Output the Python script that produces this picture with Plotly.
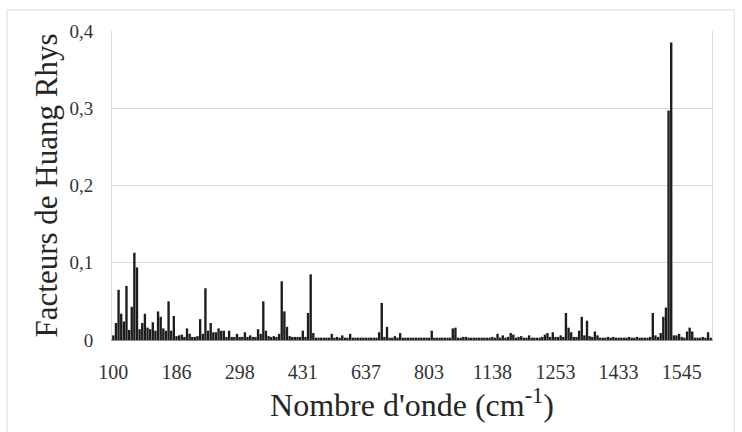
import plotly.graph_objects as go

# Tick labels shown on the category axis (every 24th mode)
tick_labels = ["100", "186", "298", "431", "637", "803", "1138", "1253", "1433", "1545"]
label_step = 24

# Huang-Rhys factors, one per vibrational mode
huang_rhys = [
    0.006, 0.022, 0.065, 0.034, 0.024, 0.070, 0.013, 0.043, 0.113, 0.094,
    0.014, 0.022, 0.034, 0.016, 0.014, 0.023, 0.012, 0.037, 0.030, 0.015,
    0.012, 0.050, 0.012, 0.031, 0.005, 0.006, 0.007, 0.004, 0.015, 0.008,
    0.004, 0.004, 0.005, 0.027, 0.008, 0.067, 0.012, 0.022, 0.010, 0.010,
    0.015, 0.012, 0.012, 0.004, 0.012, 0.004, 0.004, 0.008, 0.004, 0.004,
    0.010, 0.004, 0.006, 0.004, 0.004, 0.014, 0.008, 0.050, 0.012, 0.005,
    0.004, 0.005, 0.004, 0.008, 0.076, 0.037, 0.017, 0.005, 0.004, 0.004,
    0.004, 0.004, 0.012, 0.004, 0.035, 0.085, 0.009, 0.003, 0.003, 0.003,
    0.003, 0.003, 0.003, 0.008, 0.003, 0.004, 0.003, 0.006, 0.003, 0.003,
    0.008, 0.003, 0.003, 0.003, 0.003, 0.003, 0.003, 0.003, 0.003, 0.003,
    0.003, 0.010, 0.048, 0.004, 0.017, 0.003, 0.003, 0.005, 0.003, 0.009,
    0.003, 0.003, 0.003, 0.003, 0.003, 0.003, 0.003, 0.003, 0.003, 0.003,
    0.003, 0.012, 0.003, 0.003, 0.003, 0.003, 0.003, 0.003, 0.003, 0.015,
    0.016, 0.003, 0.003, 0.004, 0.004, 0.003, 0.003, 0.003, 0.003, 0.003,
    0.003, 0.003, 0.003, 0.003, 0.004, 0.003, 0.008, 0.003, 0.006, 0.003,
    0.004, 0.009, 0.007, 0.003, 0.004, 0.005, 0.003, 0.003, 0.006, 0.003,
    0.003, 0.003, 0.003, 0.004, 0.007, 0.009, 0.004, 0.010, 0.004, 0.004,
    0.006, 0.004, 0.035, 0.016, 0.010, 0.004, 0.004, 0.012, 0.030, 0.006,
    0.025, 0.005, 0.004, 0.011, 0.006, 0.003, 0.003, 0.003, 0.004, 0.003,
    0.004, 0.003, 0.003, 0.003, 0.003, 0.003, 0.004, 0.003, 0.003, 0.004,
    0.003, 0.003, 0.003, 0.003, 0.004, 0.035, 0.006, 0.004, 0.009, 0.030,
    0.042, 0.297, 0.385, 0.006, 0.006, 0.008, 0.004, 0.003, 0.011, 0.016,
    0.011, 0.003, 0.003, 0.003, 0.004, 0.003, 0.010, 0.003,
]

n = len(huang_rhys)
positions = list(range(n))
tick_positions = [k * label_step for k in range(len(tick_labels))]

FONT = "Liberation Serif"

fig = go.Figure(
    go.Bar(
        x=positions,
        y=huang_rhys,
        marker=dict(color="#1c1c1c", line=dict(width=0)),
        hoverinfo="y",
    )
)

fig.update_layout(
    width=742,
    height=432,
    margin=dict(l=112, r=30, t=31, b=92, autoexpand=False),
    paper_bgcolor="white",
    plot_bgcolor="white",
    bargap=0.1,
    showlegend=False,
    separators=", ",
    font=dict(family=FONT, color="#262626"),
    shapes=[
        dict(
            type="rect", xref="paper", yref="paper",
            x0=-0.175, x1=1.037, y0=-0.35, y1=1.068,
            line=dict(color="#d9d9d9", width=1), fillcolor="rgba(0,0,0,0)",
            layer="below",
        )
    ],
)

fig.update_xaxes(
    automargin=False,
    range=[-0.5, n - 0.5],
    tickmode="array",
    tickvals=tick_positions,
    ticktext=tick_labels,
    ticks="",
    ticklabelstandoff=14,
    tickfont=dict(family=FONT, size=20, color="#333333"),
    showgrid=False,
    zeroline=False,
    showline=True,
    linecolor="#8c8c8c",
    linewidth=1,
    title=dict(
        text="Nombre d'onde (cm<sup>-1</sup>)",
        font=dict(family=FONT, size=32, color="#262626"),
        standoff=8,
    ),
)

fig.update_yaxes(
    automargin=False,
    range=[0, 0.4],
    dtick=0.1,
    tick0=0,
    ticks="",
    ticklabelstandoff=14,
    tickfont=dict(family=FONT, size=19, color="#333333"),
    showgrid=True,
    gridcolor="#d9d9d9",
    gridwidth=1,
    zeroline=False,
    showline=True,
    linecolor="#d9d9d9",
    mirror=True,
    title=dict(
        text="Facteurs de Huang Rhys",
        font=dict(family=FONT, size=31, color="#262626"),
        standoff=2,
    ),
)

fig.write_html(
    "out.html",
    config={"displayModeBar": False},
    post_script="document.body.style.margin='0';document.body.style.padding='0';",
)
